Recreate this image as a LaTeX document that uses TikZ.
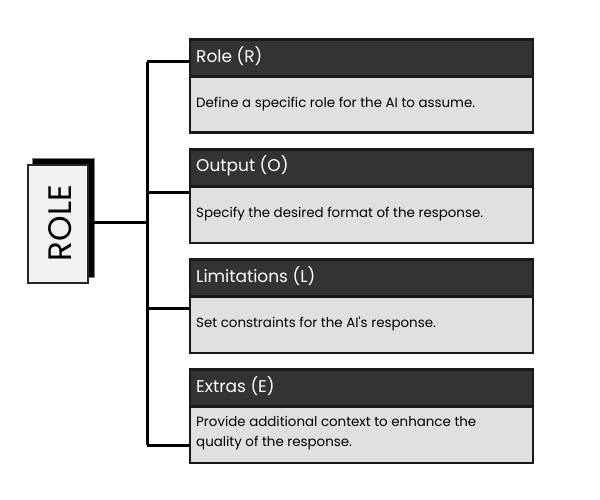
\documentclass[tikz,border=0pt]{standalone}
\usepackage{fontspec}
\setmainfont{Poppins}
\begin{document}
\begin{tikzpicture}[x=1pt,y=-1pt,
  hdr/.style={draw=black!90,line width=2.6pt,fill=black!80,minimum width=343pt,minimum height=37pt,anchor=north west,inner sep=0pt},
  bdy/.style={draw=black!90,line width=2.6pt,fill=black!12,minimum width=343pt,minimum height=56.5pt,anchor=north west,inner sep=0pt},
  htxt/.style={anchor=west,text=white,font=\fontsize{17}{20}\selectfont,inner sep=0pt},
  btxt/.style={anchor=west,text=black,font=\fontsize{13.4}{20.5}\selectfont,inner sep=0pt,align=left},
  conn/.style={line width=3pt,black}]
\useasboundingbox (0,0) rectangle (600,500);
% ROLE box
\node[draw=black!50,line width=1pt,fill=black,minimum width=62pt,minimum height=118pt,inner sep=0pt] (shadow) at (63,218) {};
\node[draw=black!85,line width=2pt,fill=black!5,minimum width=60pt,minimum height=117pt,inner sep=0pt] (role) at (58,224) {};
\node[rotate=90,font=\fontsize{32.5}{36}\selectfont,inner sep=0pt] (roletxt) at (60,223) {ROLE};
% trunk
\coordinate (ttop) at (147,62);
\coordinate (tbot) at (147,445);
\coordinate (tmid) at (147,222);
% boxes
\foreach \n/\y/\t/\d in {r/37/Role (R)/Define a specific role for the AI to assume.,
                         o/147/Output (O)/Specify the desired format of the response.,
                         l/257/Limitations (L)/Set constraints for the AI\textquotesingle s response.}{
  \node[bdy] (\n b) at (188.5,\y+38) {};
  \node[hdr] (\n h) at (188.5,\y+1.3) {};
  \node[htxt] (\n ht) at (196,\y+19) {\t};
  \node[btxt] (\n bt) at (196,\y+67) {\d};
}
\node[bdy] (eb) at (188.5,405) {};
\node[hdr] (eh) at (188.5,368.3) {};
\node[htxt] (eht) at (196,386) {Extras (E)};
\node[btxt] (ebt) at (196,433) {Provide additional context to enhance the\\quality of the response.};
% connectors
\draw[conn] (role.east |- tmid) -- (tmid);
\draw[conn] (ttop) -- (tbot);
\draw[conn] (ttop) -- (ttop -| rh.west);
\draw[conn] (147,193) -- (147,193 -| ob.west);
\draw[conn] (147,308) -- (147,308 -| lb.west);
\draw[conn] (tbot) -- (tbot -| eb.west);
\end{tikzpicture}
\end{document}
